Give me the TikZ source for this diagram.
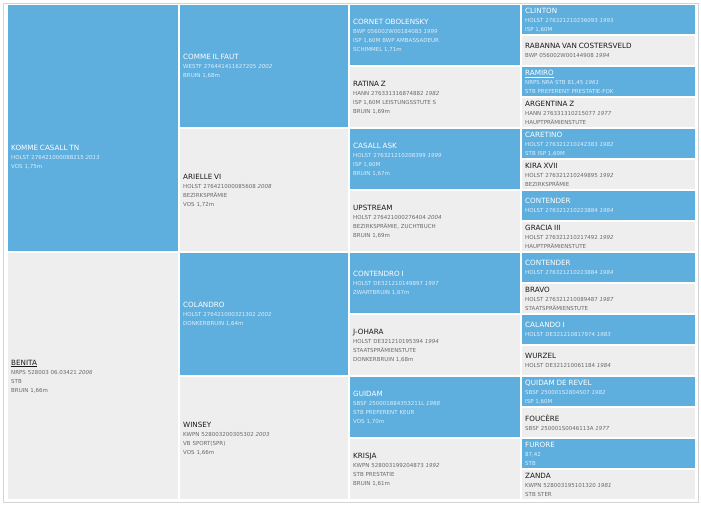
\documentclass[tikz,border=0pt]{standalone}
\usepackage{fontspec}
\setmainfont{DejaVu Sans}
\definecolor{pedblue}{RGB}{94,174,222}
\definecolor{pedgrey}{RGB}{238,238,238}
\definecolor{bluetext}{RGB}{222,239,250}
\definecolor{greytext}{RGB}{105,105,105}
\definecolor{darktext}{RGB}{25,25,25}
\definecolor{pedline}{RGB}{212,212,212}
\colorlet{namecolor}{darktext}
\newcommand{\hname}[1]{{\fontsize{7.2}{9}\selectfont\color{namecolor}#1}}
\newcommand{\yr}[1]{\textit{#1}}
\tikzset{
  cell/.style={anchor=north west, inner xsep=3pt, inner ysep=0pt, align=left,
    font=\fontsize{5.5}{9}\selectfont},
  sire/.style={cell, fill=pedblue, text=bluetext,
    execute at begin node={\colorlet{namecolor}{white}}},
  dam/.style={cell, fill=pedgrey, text=greytext,
    execute at begin node={\colorlet{namecolor}{darktext}}},
  genone/.style={text width=164pt, minimum height=246pt},
  gentwo/.style={text width=162pt, minimum height=122pt},
  genthree/.style={text width=164pt, minimum height=60pt},
  genfour/.style={text width=167pt, minimum height=29pt}
}
\begin{document}
\begin{tikzpicture}[x=1pt, y=-1pt]
  \useasboundingbox (0,0) rectangle (701,513);
  \draw[pedline, line width=0.8pt] (3,3) rectangle (698,502);

  % first generation
  \node[sire, genone] (S) at (8,5) {};
  \node[sire, fill=none, anchor=west, text width=164pt] (Stext) at ([yshift=-29pt]S.west)
    {\hname{KOMME CASALL TN}\\HOLST 276421000088215 \yr{2013}\\VOS 1,75m};
  \node[dam, genone] (D) at (8,253)
    {\hname{\underline{BENITA}}\\NRPS 528003 06.03421 \yr{2006}\\STB\\BRUIN 1,66m};

  % second generation
  \node[sire, gentwo] (SS) at (180,5)
    {\hname{COMME IL FAUT}\\WESTF 276441411627205 \yr{2002}\\BRUIN 1,68m};
  \node[dam, gentwo] (SD) at (180,129)
    {\hname{ARIELLE VI}\\HOLST 276421000085608 \yr{2008}\\BEZIRKSPRÄMIE\\VOS 1,72m};
  \node[sire, gentwo] (DS) at (180,253)
    {\hname{COLANDRO}\\HOLST 276421000321302 \yr{2002}\\DONKERBRUIN 1,64m};
  \node[dam, gentwo] (DD) at (180,377)
    {\hname{WINSEY}\\KWPN 528003200305302 \yr{2003}\\VB SPORT(SPR)\\VOS 1,66m};

  % third generation
  \node[sire, genthree] (SSS) at (350,5)
    {\hname{CORNET OBOLENSKY}\\BWP 056002W00184083 \yr{1999}\\ISP 1,60M BWP AMBASSADEUR\\SCHIMMEL 1,71m};
  \node[dam, genthree] (SSD) at (350,67)
    {\hname{RATINA Z}\\HANN 276331316874882 \yr{1982}\\ISP 1,60M LEISTUNGSSTUTE S\\BRUIN 1,69m};
  \node[sire, genthree] (SDS) at (350,129)
    {\hname{CASALL ASK}\\HOLST 276321210208399 \yr{1999}\\ISP 1,60M\\BRUIN 1,67m};
  \node[dam, genthree] (SDD) at (350,191)
    {\hname{UPSTREAM}\\HOLST 276421000276404 \yr{2004}\\BEZIRKSPRÄMIE, ZUCHTBUCH\\BRUIN 1,69m};
  \node[sire, genthree] (DSS) at (350,253)
    {\hname{CONTENDRO I}\\HOLST DE321210149897 \yr{1997}\\ZWARTBRUIN 1,67m};
  \node[dam, genthree] (DSD) at (350,315)
    {\hname{J-OHARA}\\HOLST DE321210195394 \yr{1994}\\STAATSPRÄMIENSTUTE\\DONKERBRUIN 1,68m};
  \node[sire, genthree] (DDS) at (350,377)
    {\hname{GUIDAM}\\SBSF 250001884353211L \yr{1988}\\STB PREFERENT KEUR\\VOS 1,70m};
  \node[dam, genthree] (DDD) at (350,439)
    {\hname{KRISJA}\\KWPN 528003199204873 \yr{1992}\\STB PRESTATIE\\BRUIN 1,61m};

  % fourth generation
  \node[sire, genfour] (SSSS) at (522,5)
    {\hname{CLINTON}\\HOLST 276321210236093 \yr{1993}\\ISP 1,60M};
  \node[dam, genfour] (SSSD) at (522,36)
    {\hname{RABANNA VAN COSTERSVELD}\\BWP 056002W00144908 \yr{1994}};
  \node[sire, genfour] (SSDS) at (522,67)
    {\hname{\underline{RAMIRO}}\\NRPS NRA STB 81,45 \yr{1961}\\STB PREFERENT PRESTATIE-FOK};
  \node[dam, genfour] (SSDD) at (522,98)
    {\hname{ARGENTINA Z}\\HANN 276331310215077 \yr{1977}\\HAUPTPRÄMIENSTUTE};
  \node[sire, genfour] (SDSS) at (522,129)
    {\hname{CARETINO}\\HOLST 276321210242383 \yr{1982}\\STB ISP 1,60M};
  \node[dam, genfour] (SDSD) at (522,160)
    {\hname{KIRA XVII}\\HOLST 276321210249895 \yr{1992}\\BEZIRKSPRÄMIE};
  \node[sire, genfour] (SDDS) at (522,191)
    {\hname{CONTENDER}\\HOLST 276321210223884 \yr{1984}};
  \node[dam, genfour] (SDDD) at (522,222)
    {\hname{GRACIA III}\\HOLST 276321210217492 \yr{1992}\\HAUPTPRÄMIENSTUTE};
  \node[sire, genfour] (DSSS) at (522,253)
    {\hname{CONTENDER}\\HOLST 276321210223884 \yr{1984}};
  \node[dam, genfour] (DSSD) at (522,284)
    {\hname{BRAVO}\\HOLST 276321210089487 \yr{1987}\\STAATSPRÄMIENSTUTE};
  \node[sire, genfour] (DSDS) at (522,315)
    {\hname{CALANDO I}\\HOLST DE321210817974 \yr{1983}};
  \node[dam, genfour] (DSDD) at (522,346)
    {\hname{WURZEL}\\HOLST DE321210061184 \yr{1984}};
  \node[sire, genfour] (DDSS) at (522,377)
    {\hname{QUIDAM DE REVEL}\\SBSF 250001S2804S07 \yr{1982}\\ISP 1,60M};
  \node[dam, genfour] (DDSD) at (522,408)
    {\hname{FOUCÈRE}\\SBSF 250001S0046113A \yr{1977}};
  \node[sire, genfour] (DDDS) at (522,439)
    {\hname{FURORE}\\87,42\\STB};
  \node[dam, genfour] (DDDD) at (522,470)
    {\hname{ZANDA}\\KWPN 528003195101320 \yr{1981}\\STB STER};
\end{tikzpicture}
\end{document}
